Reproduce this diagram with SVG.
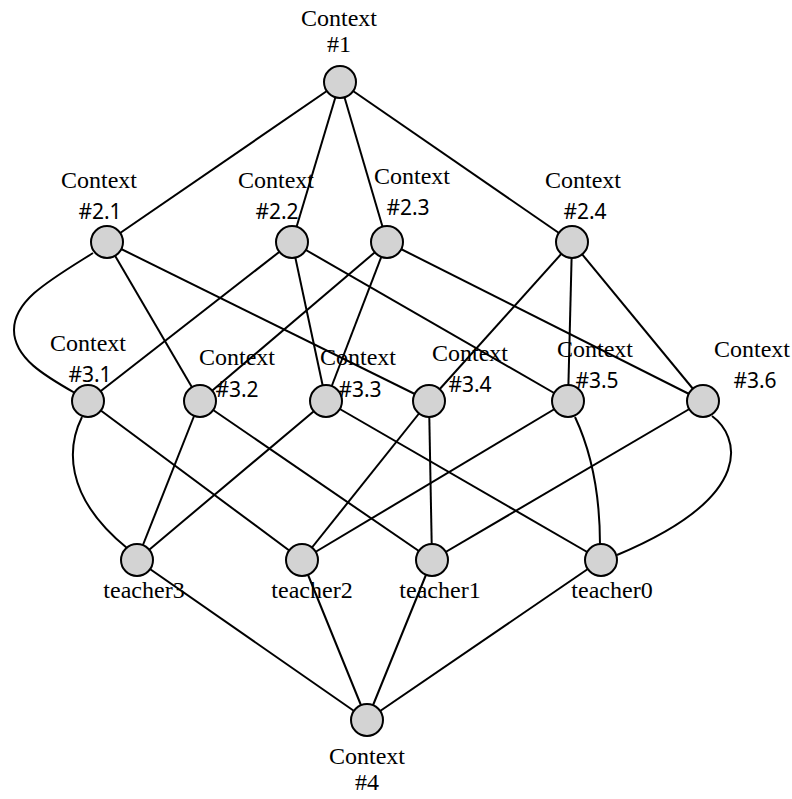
<svg xmlns="http://www.w3.org/2000/svg" width="792" height="799" viewBox="0 0 792 799">
<style>
.e{stroke:#000;stroke-width:2;fill:none}
.n{fill:#d3d3d3;stroke:#000;stroke-width:2}
.s{font-family:"Liberation Serif","Times New Roman",serif;font-size:24px;text-anchor:middle;fill:#000}
.h{font-family:"Noto Sans","Open Sans",sans-serif;font-size:21px;text-anchor:middle;fill:#000}
</style>
<rect width="792" height="799" fill="#fff"/>
<g id="connectors">
<line class="e" x1="340" y1="82" x2="107" y2="242"/>
<line class="e" x1="340" y1="82" x2="292" y2="242"/>
<line class="e" x1="340" y1="82" x2="387" y2="242"/>
<line class="e" x1="340" y1="82" x2="572" y2="242"/>
<path class="e" d="M93,253 C50,280 14,300 14,330 C14,358 45,376 75,393"/>
<line class="e" x1="107" y1="242" x2="200" y2="401"/>
<line class="e" x1="107" y1="242" x2="429" y2="401"/>
<line class="e" x1="292" y1="242" x2="88" y2="401"/>
<line class="e" x1="292" y1="242" x2="326" y2="401"/>
<line class="e" x1="292" y1="242" x2="568" y2="401"/>
<line class="e" x1="387" y1="242" x2="200" y2="401"/>
<line class="e" x1="387" y1="242" x2="326" y2="401"/>
<line class="e" x1="387" y1="242" x2="703" y2="401"/>
<line class="e" x1="572" y1="242" x2="429" y2="401"/>
<line class="e" x1="572" y1="242" x2="568" y2="401"/>
<line class="e" x1="572" y1="242" x2="703" y2="401"/>
<path class="e" d="M82,417 C68,445 62,495 127,548"/>
<line class="e" x1="88" y1="401" x2="302" y2="560"/>
<line class="e" x1="200" y1="401" x2="137" y2="560"/>
<line class="e" x1="200" y1="401" x2="432" y2="560"/>
<line class="e" x1="326" y1="401" x2="137" y2="560"/>
<line class="e" x1="326" y1="401" x2="601" y2="560"/>
<line class="e" x1="429" y1="401" x2="302" y2="560"/>
<line class="e" x1="429" y1="401" x2="432" y2="560"/>
<line class="e" x1="568" y1="401" x2="302" y2="560"/>
<path class="e" d="M575,417 Q600,470 600,545"/>
<line class="e" x1="703" y1="401" x2="432" y2="560"/>
<path class="e" d="M712,416 C738,435 760,495 617,555"/>
<line class="e" x1="137" y1="560" x2="367" y2="720"/>
<line class="e" x1="302" y1="560" x2="367" y2="720"/>
<line class="e" x1="432" y1="560" x2="367" y2="720"/>
<line class="e" x1="601" y1="560" x2="367" y2="720"/>
</g>
<g id="c1"><circle class="n" cx="340" cy="82" r="16"/><text class="s" x="339" y="26">Context</text><text class="s" x="339" y="52">#1</text></g>
<g id="c2_1"><circle class="n" cx="107" cy="242" r="16"/><text class="s" x="99" y="188">Context</text><text class="h" x="100" y="219">#2.1</text></g>
<g id="c2_2"><circle class="n" cx="292" cy="242" r="16"/><text class="s" x="276" y="188">Context</text><text class="h" x="277" y="219">#2.2</text></g>
<g id="c2_3"><circle class="n" cx="387" cy="242" r="16"/><text class="s" x="412" y="184">Context</text><text class="h" x="408" y="215">#2.3</text></g>
<g id="c2_4"><circle class="n" cx="572" cy="242" r="16"/><text class="s" x="583" y="188">Context</text><text class="h" x="585" y="219">#2.4</text></g>
<g id="c3_1"><circle class="n" cx="88" cy="401" r="16"/><text class="s" x="88" y="351">Context</text><text class="h" x="90" y="382">#3.1</text></g>
<g id="c3_2"><circle class="n" cx="200" cy="401" r="16"/><text class="s" x="237" y="365">Context</text><text class="h" x="237" y="397">#3.2</text></g>
<g id="c3_3"><circle class="n" cx="326" cy="401" r="16"/><text class="s" x="358" y="365">Context</text><text class="h" x="360" y="397">#3.3</text></g>
<g id="c3_4"><circle class="n" cx="429" cy="401" r="16"/><text class="s" x="470" y="361">Context</text><text class="h" x="470" y="392">#3.4</text></g>
<g id="c3_5"><circle class="n" cx="568" cy="401" r="16"/><text class="s" x="595" y="357">Context</text><text class="h" x="597" y="388">#3.5</text></g>
<g id="c3_6"><circle class="n" cx="703" cy="401" r="16"/><text class="s" x="752" y="357">Context</text><text class="h" x="755" y="388">#3.6</text></g>
<g id="teacher3"><circle class="n" cx="137" cy="560" r="16"/><text class="s" x="144" y="598">teacher3</text></g>
<g id="teacher2"><circle class="n" cx="302" cy="560" r="16"/><text class="s" x="312" y="598">teacher2</text></g>
<g id="teacher1"><circle class="n" cx="432" cy="560" r="16"/><text class="s" x="440" y="598">teacher1</text></g>
<g id="teacher0"><circle class="n" cx="601" cy="560" r="16"/><text class="s" x="612" y="598">teacher0</text></g>
<g id="c4"><circle class="n" cx="367" cy="720" r="16"/><text class="s" x="367" y="764">Context</text><text class="s" x="367" y="790">#4</text></g>
</svg>
